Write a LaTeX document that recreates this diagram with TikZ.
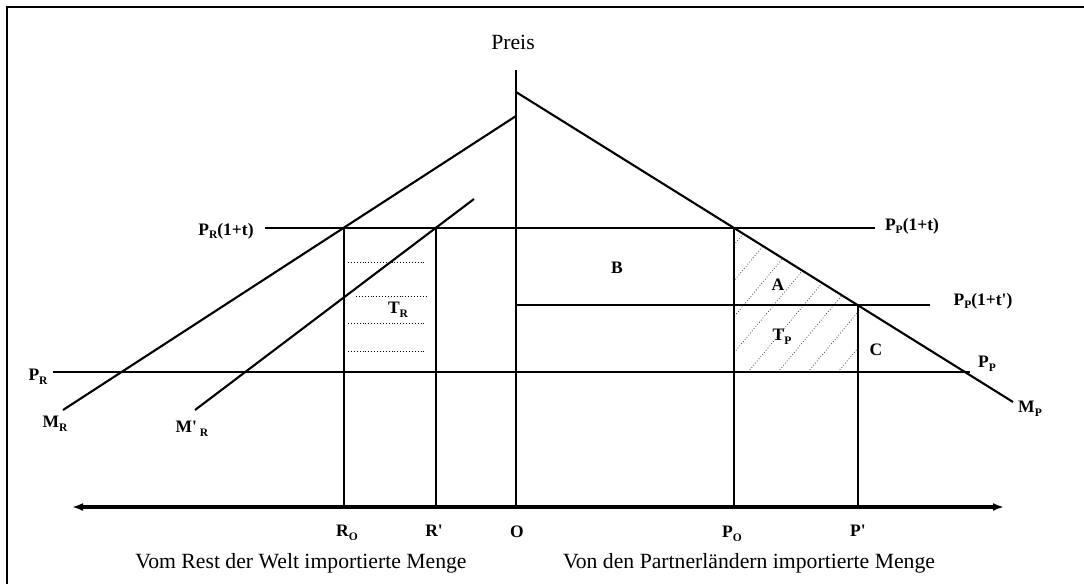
\documentclass[tikz,border=0pt]{standalone}
\usepackage{fontspec}
\setmainfont{Liberation Serif}
\usetikzlibrary{arrows.meta}
\newcommand\lsub[1]{\raisebox{-0.45ex}{\fontsize{11.5}{11.5}\selectfont\bfseries #1}}
\begin{document}
\begin{tikzpicture}[x=1pt,y=-1pt,
  curve/.style={line width=2.1pt},
  level/.style={line width=2.4pt},
  vline/.style={line width=1.6pt},
  lab/.style={font=\fontsize{17.5}{17.5}\selectfont\bfseries, inner sep=0pt},
  big/.style={font=\fontsize{21.7}{22}\selectfont, inner sep=0pt},
  dotline/.style={line width=0.9pt, dotted},
  hatch/.style={line width=0.8pt, dotted, black!75},
  axisline/.style={line width=3.2pt, {Latex[length=11pt,width=8pt]}-{Latex[length=11pt,width=8pt]}}
]
\useasboundingbox (0,0) rectangle (1084,584);
% frame
\draw[line width=2.4pt] (7,584) -- (7,7) -- (1084,7);

% coordinates
\coordinate (Otop) at (516,70);
\coordinate (O) at (516,507);
\coordinate (xl) at (72,507);
\coordinate (xr) at (1004,507);
\coordinate (MPs) at (516,92);
\coordinate (MPe) at (1013,402);
\coordinate (MRs) at (516,116);
\coordinate (MRe) at (63,410);
\coordinate (MRps) at (474,199);
\coordinate (MRpe) at (195,410);
\coordinate (L1l) at (265,228);
\coordinate (L1r) at (875,228);
\coordinate (L2l) at (516,305);
\coordinate (L2r) at (930,305);
\coordinate (L3l) at (53,372);
\coordinate (L3r) at (970,372);
\coordinate (Rot) at (344,228);
\coordinate (Rob) at (344,507);
\coordinate (Rpt) at (436,228);
\coordinate (Rpb) at (436,507);
\coordinate (Pot) at (734,228);
\coordinate (Pob) at (734,507);
\coordinate (Ppt) at (858,305);
\coordinate (Ppb) at (858,507);

% hatching in A + T_P
\begin{scope}
\clip (734,228) -- (858,305) -- (858,372) -- (734,372) -- cycle;
\foreach \k in {-6,...,4} {
  \draw[hatch] ({748+30*\k},372) -- ++(150,-180);
}
\end{scope}

% dotted lines in T_R
\draw[dotline] (348,262) -- (426,262);
\draw[dotline] (356,296) -- (426,296);
\draw[dotline] (348,323) -- (426,323);
\draw[dotline] (348,351) -- (426,351);

% axes
\draw[line width=1.8pt] (Otop) -- (O);
\draw[axisline] (xl) -- (xr);

% price levels
\draw[level] (L1l) -- (L1r);
\draw[level] (L2l) -- (L2r);
\draw[level] (L3l) -- (L3r);

% curves
\draw[curve] (MPs) -- (MPe);
\draw[curve] (MRs) -- (MRe);
\draw[curve] (MRps) -- (MRpe);

% verticals
\draw[vline] (Rot) -- (Rob);
\draw[vline] (Rpt) -- (Rpb);
\draw[vline] (Pot) -- (Pob);
\draw[vline] (Ppt) -- (Ppb);

% labels
\node[big] (preis) at (513,42) {Preis};
\node[lab] (lPR1t) at (226,231) {P\lsub{R}(1+t)};
\node[lab] (lPP1t) at (912,226) {P\lsub{P}(1+t)};
\node[lab] (lPP1tp) at (983,301) {P\lsub{P}(1+t\textquotesingle)};
\node[lab] (lPR) at (38,377) {P\lsub{R}};
\node[lab] (lPP) at (987,364) {P\lsub{P}};
\node[lab] (lMR) at (55,424) {M\lsub{R}};
\node[lab] (lMRp) at (192,429) {M\textquotesingle\,\lsub{R}};
\node[lab] (lMP) at (1030,409) {M\lsub{P}};
\node[lab] (lA) at (778,285) {A};
\node[lab] (lTP) at (782,337) {T\lsub{P}};
\node[lab] (lC) at (876,350) {C};
\node[lab] (lB) at (617,268) {B};
\node[lab] (lTR) at (398,310) {T\lsub{R}};
\node[lab] (lRo) at (347,533) {R\lsub{O}};
\node[lab] (lRp) at (434,531) {R\textquotesingle};
\node[lab] (lO) at (517,532) {O};
\node[lab] (lPo) at (732,534) {P\lsub{O}};
\node[lab] (lPp) at (858,531) {P\textquotesingle};
\node[big] (tleft) at (301,563) {Vom Rest der Welt importierte Menge};
\node[big] (tright) at (749,563) {Von den Partnerländern importierte Menge};
\end{tikzpicture}
\end{document}
